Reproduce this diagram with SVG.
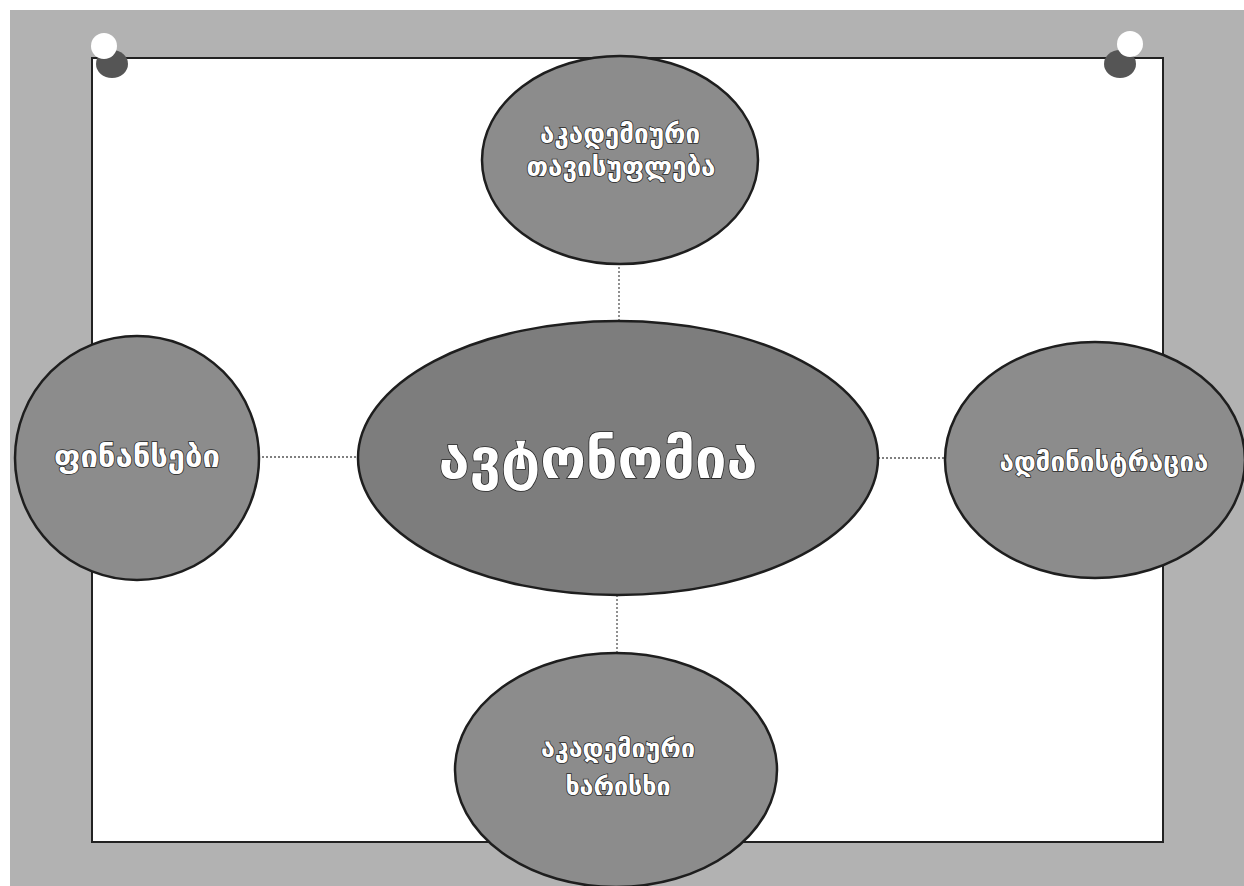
<svg xmlns="http://www.w3.org/2000/svg" width="1244" height="886" viewBox="0 0 1244 886">
<style>
.node{fill:#8c8c8c;stroke:#1e1e1e;stroke-width:2.5}
.hub{fill:#7d7d7d;stroke:#1e1e1e;stroke-width:2.5}
.lbl{font-family:"DejaVu Sans",sans-serif;fill:#ffffff;stroke:#2a2a2a;stroke-width:1.6;paint-order:stroke;text-anchor:middle;font-weight:bold}
.conn{stroke:#555;stroke-width:1.3;stroke-dasharray:2 2;fill:none}
</style>
<rect x="0" y="0" width="1244" height="886" fill="#ffffff"/>
<rect id="frame" x="10" y="10" width="1234" height="876" fill="#b2b2b2"/>
<rect id="board" x="92" y="58" width="1071" height="784" fill="#ffffff" stroke="#222" stroke-width="2"/>
<g id="pins">
<ellipse cx="112" cy="64" rx="16" ry="14" fill="#555"/>
<circle cx="104" cy="46" r="13" fill="#ffffff"/>
<ellipse cx="1120" cy="64" rx="16" ry="14" fill="#555"/>
<circle cx="1130" cy="44" r="13" fill="#ffffff"/>
</g>
<g id="connectors">
<line class="conn" x1="619" y1="263" x2="619" y2="321"/>
<line class="conn" x1="258" y1="457" x2="358" y2="457"/>
<line class="conn" x1="878" y1="458" x2="946" y2="458"/>
<line class="conn" x1="617" y1="595" x2="617" y2="653"/>
</g>
<g id="node-top">
<ellipse class="node" cx="620" cy="160" rx="138" ry="104"/>
<text class="lbl" x="620" y="143" font-size="26">აკადემიური</text>
<text class="lbl" x="621" y="176" font-size="26">თავისუფლება</text>
</g>
<g id="node-left">
<circle class="node" cx="137" cy="458" r="122"/>
<text class="lbl" x="137" y="467" font-size="31">ფინანსები</text>
</g>
<g id="node-right">
<ellipse class="node" cx="1095" cy="460" rx="150" ry="118"/>
<text class="lbl" x="1104" y="471" font-size="26">ადმინისტრაცია</text>
</g>
<g id="node-bottom">
<ellipse class="node" cx="616" cy="770" rx="161" ry="117"/>
<text class="lbl" x="618" y="757" font-size="25">აკადემიური</text>
<text class="lbl" x="618" y="795" font-size="25">ხარისხი</text>
</g>
<g id="node-center">
<ellipse class="hub" cx="618" cy="458" rx="260" ry="137"/>
<text class="lbl" x="598" y="478" font-size="56" stroke-width="2.5">ავტონომია</text>
</g>
</svg>
